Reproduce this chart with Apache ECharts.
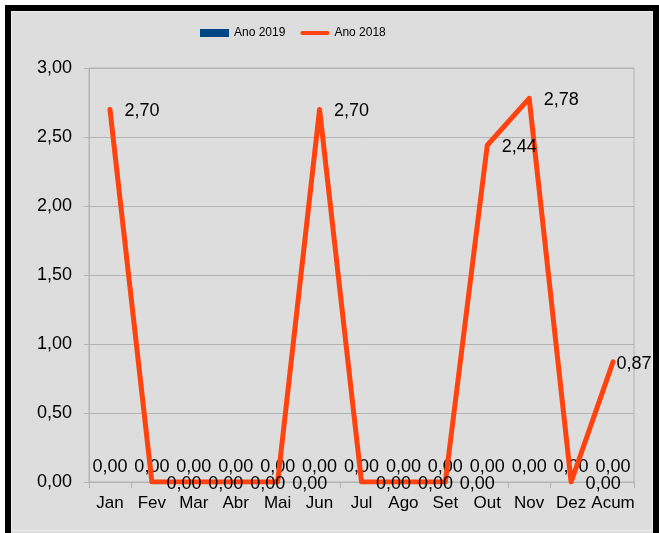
<!DOCTYPE html>
<html>
<head>
<meta charset="utf-8">
<script src="https://cdn.jsdelivr.net/npm/echarts@6/dist/echarts.min.js"></script>
<style>
  html, body { margin: 0; padding: 0; background: #fff; }
  #chart { width: 659px; height: 533px; }
</style>
</head>
<body>
<div id="chart"></div>
<script>
// Monthly values plus accumulated total
const categories = ['Jan', 'Fev', 'Mar', 'Abr', 'Mai', 'Jun', 'Jul', 'Ago', 'Set', 'Out', 'Nov', 'Dez', 'Acum'];
const values2019 = [0, 0, 0, 0, 0, 0, 0, 0, 0, 0, 0, 0, 0];
const values2018 = [2.70, 0, 0, 0, 0, 2.70, 0, 0, 0, 2.44, 2.78, 0, 0.87];
const seriesNames = ['Ano 2019', 'Ano 2018'];
const yTicks = { min: 0, max: 3, interval: 0.5 };

const FONT = 'Liberation Sans, Arial, sans-serif';
const fmt = v => Number(v).toFixed(2).replace('.', ',');

// thick rounded stroke used as the line entry's legend key
const LINE_KEY = 'path://M2,0 H28 A2,2 0 0 1 28,4 H2 A2,2 0 0 1 2,0 Z';

const chart = echarts.init(document.getElementById('chart'));

// last point sits against the plot edge, so its label hugs the point
const lineData = values2018.map((v, i) => {
  if (i === values2018.length - 1) {
    return { value: v, label: { distance: 3 } };
  }
  return v;
});

chart.setOption({
  backgroundColor: '#ffffff',
  animation: false,
  graphic: [
    {
      type: 'rect',
      z: -10,
      silent: true,
      shape: { x: 8, y: 8, width: 648, height: 545 },
      style: { fill: '#dddddd', stroke: '#000000', lineWidth: 6 }
    },
    {
      type: 'rect',
      z: -9,
      silent: true,
      shape: { x: 11.5, y: 11.5, width: 641, height: 519 },
      style: { fill: 'none', stroke: '#eeeeee', lineWidth: 1 }
    }
  ],
  legend: {
    data: [
      { name: seriesNames[0], icon: 'rect' },
      { name: seriesNames[1], icon: LINE_KEY }
    ],
    left: 200,
    top: 27,
    padding: 0,
    itemWidth: 29,
    itemHeight: 8,
    itemGap: 15,
    textStyle: { fontFamily: FONT, fontSize: 12, color: '#000' }
  },
  grid: {
    left: 89,
    right: 25,
    top: 68,
    bottom: 51,
    show: true,
    borderColor: '#b3b3b3',
    borderWidth: 1,
    backgroundColor: 'transparent'
  },
  xAxis: {
    type: 'category',
    data: categories,
    boundaryGap: true,
    axisLine: { show: true, lineStyle: { color: '#b3b3b3', width: 1 } },
    axisTick: { show: true, length: 6, lineStyle: { color: '#b3b3b3' } },
    axisLabel: { interval: 0, fontFamily: FONT, fontSize: 17, color: '#000', margin: 13 },
    splitLine: { show: false }
  },
  yAxis: {
    type: 'value',
    min: yTicks.min,
    max: yTicks.max,
    interval: yTicks.interval,
    axisLine: { show: true, lineStyle: { color: '#b3b3b3', width: 1 } },
    axisTick: { show: true, length: 5, lineStyle: { color: '#b3b3b3' } },
    axisLabel: {
      fontFamily: FONT, fontSize: 18, color: '#000', margin: 17,
      padding: [4, 0, 0, 0], formatter: fmt
    },
    splitLine: { show: true, lineStyle: { color: '#b3b3b3', width: 1 } }
  },
  series: [
    {
      name: seriesNames[0],
      type: 'bar',
      data: values2019,
      barWidth: '60%',
      itemStyle: { color: '#004586' },
      label: {
        show: true,
        position: 'top',
        distance: 6,
        fontFamily: FONT,
        fontSize: 18,
        color: '#000',
        formatter: p => fmt(p.value)
      }
    },
    {
      name: seriesNames[1],
      type: 'line',
      data: lineData,
      symbol: 'circle',
      symbolSize: 1,
      showSymbol: true,
      z: 3,
      lineStyle: { color: '#ff420e', width: 5, cap: 'round', join: 'round' },
      itemStyle: { color: '#ff420e' },
      label: {
        show: true,
        position: 'right',
        distance: 14,
        offset: [0, 2],
        fontFamily: FONT,
        fontSize: 18,
        color: '#000',
        formatter: p => fmt(p.value)
      }
    }
  ]
});
</script>
</body>
</html>
